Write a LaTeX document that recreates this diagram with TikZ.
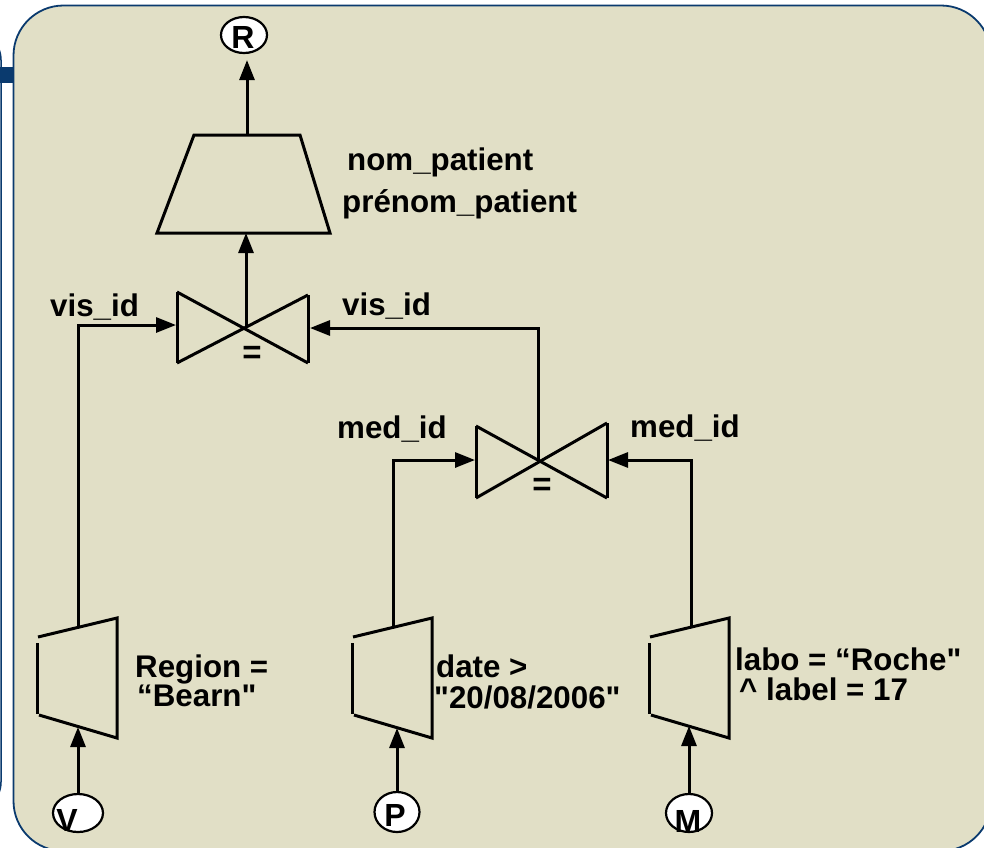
\documentclass[tikz,border=0pt]{standalone}
\usepackage{fontspec}
\setmainfont{Liberation Sans}
\usetikzlibrary{arrows.meta,shapes.geometric}
\definecolor{bg}{RGB}{225,223,198}
\definecolor{framec}{RGB}{10,58,110}
\begin{document}
\begin{tikzpicture}[x=1pt,y=-1pt,
  lbl/.style={font=\fontsize{31.3}{33}\selectfont\bfseries, inner sep=0pt, anchor=base west},
  eqlbl/.style={font=\fontsize{33}{33}\selectfont\bfseries, inner sep=0pt},
  rel/.style={draw=black, line width=2.2pt, fill=white, ellipse, inner sep=0pt},
  letter/.style={font=\fontsize{32}{32}\selectfont\bfseries, inner sep=0pt},
  edge/.style={line width=3pt, draw=black},
  arr/.style={edge, -{Triangle[length=20pt,width=15pt]}},
  shp/.style={line width=3pt, line join=miter},
  selpic/.pic={
    \draw[shp] (0,6) -- (0,77);
    \draw[shp] (1,0) -- (80,-19) -- (80,101) -- (2,78);
  }
]
\useasboundingbox (0,0) rectangle (984,847);
% background frames
\draw[draw=framec, fill=white, line width=1.5pt, rounded corners=30pt] (-300,30) rectangle (1,812);
\fill[framec] (0,67) rectangle (14,83);
\draw[draw=framec, fill=bg, line width=1.8pt, rounded corners=50pt] (13.5,5.5) rectangle (991,851);

% relations
\node[rel, minimum width=46pt, minimum height=36pt] (R) at (244,35) {};
\node[letter] (Rl) at (243,37) {R};
\node[rel, minimum width=50pt, minimum height=38pt] (V) at (78,813) {};
\node[letter] (Vl) at (67,820) {V};
\node[rel, minimum width=45pt, minimum height=40pt] (P) at (397,812) {};
\node[letter] (Pl) at (395,815) {P};
\node[rel, minimum width=46pt, minimum height=38pt] (M) at (689,813) {};
\node[letter] (Ml) at (688,821) {M};

% projection
\draw[shp] (194,135) -- (300,135) -- (330,233) -- (157,233) -- cycle;
\coordinate (projtop) at (247,135);
\coordinate (projbot) at (246,233);

% join 1
\draw[shp] (177,292) -- (177,363);
\draw[shp] (308,295) -- (308,363);
\draw[shp] (177,292) -- (308,363);
\draw[shp] (177,363) -- (308,295);
\coordinate (j1) at (246,328);
\coordinate (j1left) at (176,325);
\coordinate (j1right) at (310,328);
\node[eqlbl] (eq1) at (252,355) {=};

% join 2
\draw[shp] (476,426) -- (476,498);
\draw[shp] (607,423) -- (607,498);
\draw[shp] (476,426) -- (607,498);
\draw[shp] (476,498) -- (607,423);
\coordinate (j2) at (538,461);
\coordinate (j2left) at (475,460);
\coordinate (j2right) at (608,460);
\node[eqlbl] (eq2) at (542,487) {=};

% selections
\pic at (37,637) {selpic};
\pic at (352,637) {selpic};
\pic at (649,637) {selpic};
\coordinate (sVtop) at (78,627);
\coordinate (sVbot) at (78,727);
\coordinate (sPtop) at (393,627);
\coordinate (sPbot) at (397,728);
\coordinate (sMtop) at (691,627);
\coordinate (sMbot) at (689,726);

% connectors
\draw[arr, shorten >=6pt] (projtop) -- (projtop |- R.south);
\draw[arr] (j1) -- (projbot);
\draw[arr] (j2) -- (538,328) -- (j1right);
\draw[arr] (sVtop) -- (78,325) -- (j1left);
\draw[arr] (sPtop) -- (393,460) -- (j2left);
\draw[arr] (sMtop) -- (691,460) -- (j2right);
\draw[arr] (V) -- (sVbot);
\draw[arr] (P) -- (sPbot);
\draw[arr] (M) -- (sMbot);

% labels
\node[lbl] (l1) at (347,170) {nom\_patient};
\node[lbl] (l2) at (342,212) {prénom\_patient};
\node[lbl] (l3) at (50,316) {vis\_id};
\node[lbl] (l4) at (342,315) {vis\_id};
\node[lbl] (l5) at (337,438) {med\_id};
\node[lbl] (l6) at (630,437) {med\_id};
\node[lbl] (l7) at (135,677) {Region =};
\node[lbl] (l8) at (137,706) {“Bearn\textquotedbl};
\node[lbl] (l9) at (436,677) {date >};
\node[lbl] (l10) at (434,708) {\textquotedbl 20/08/2006\textquotedbl};
\node[lbl] (l11) at (735,670) {labo = “Roche\textquotedbl};
\node[lbl] (l12) at (739,700) {\textasciicircum{} label = 17};
\end{tikzpicture}
\end{document}
